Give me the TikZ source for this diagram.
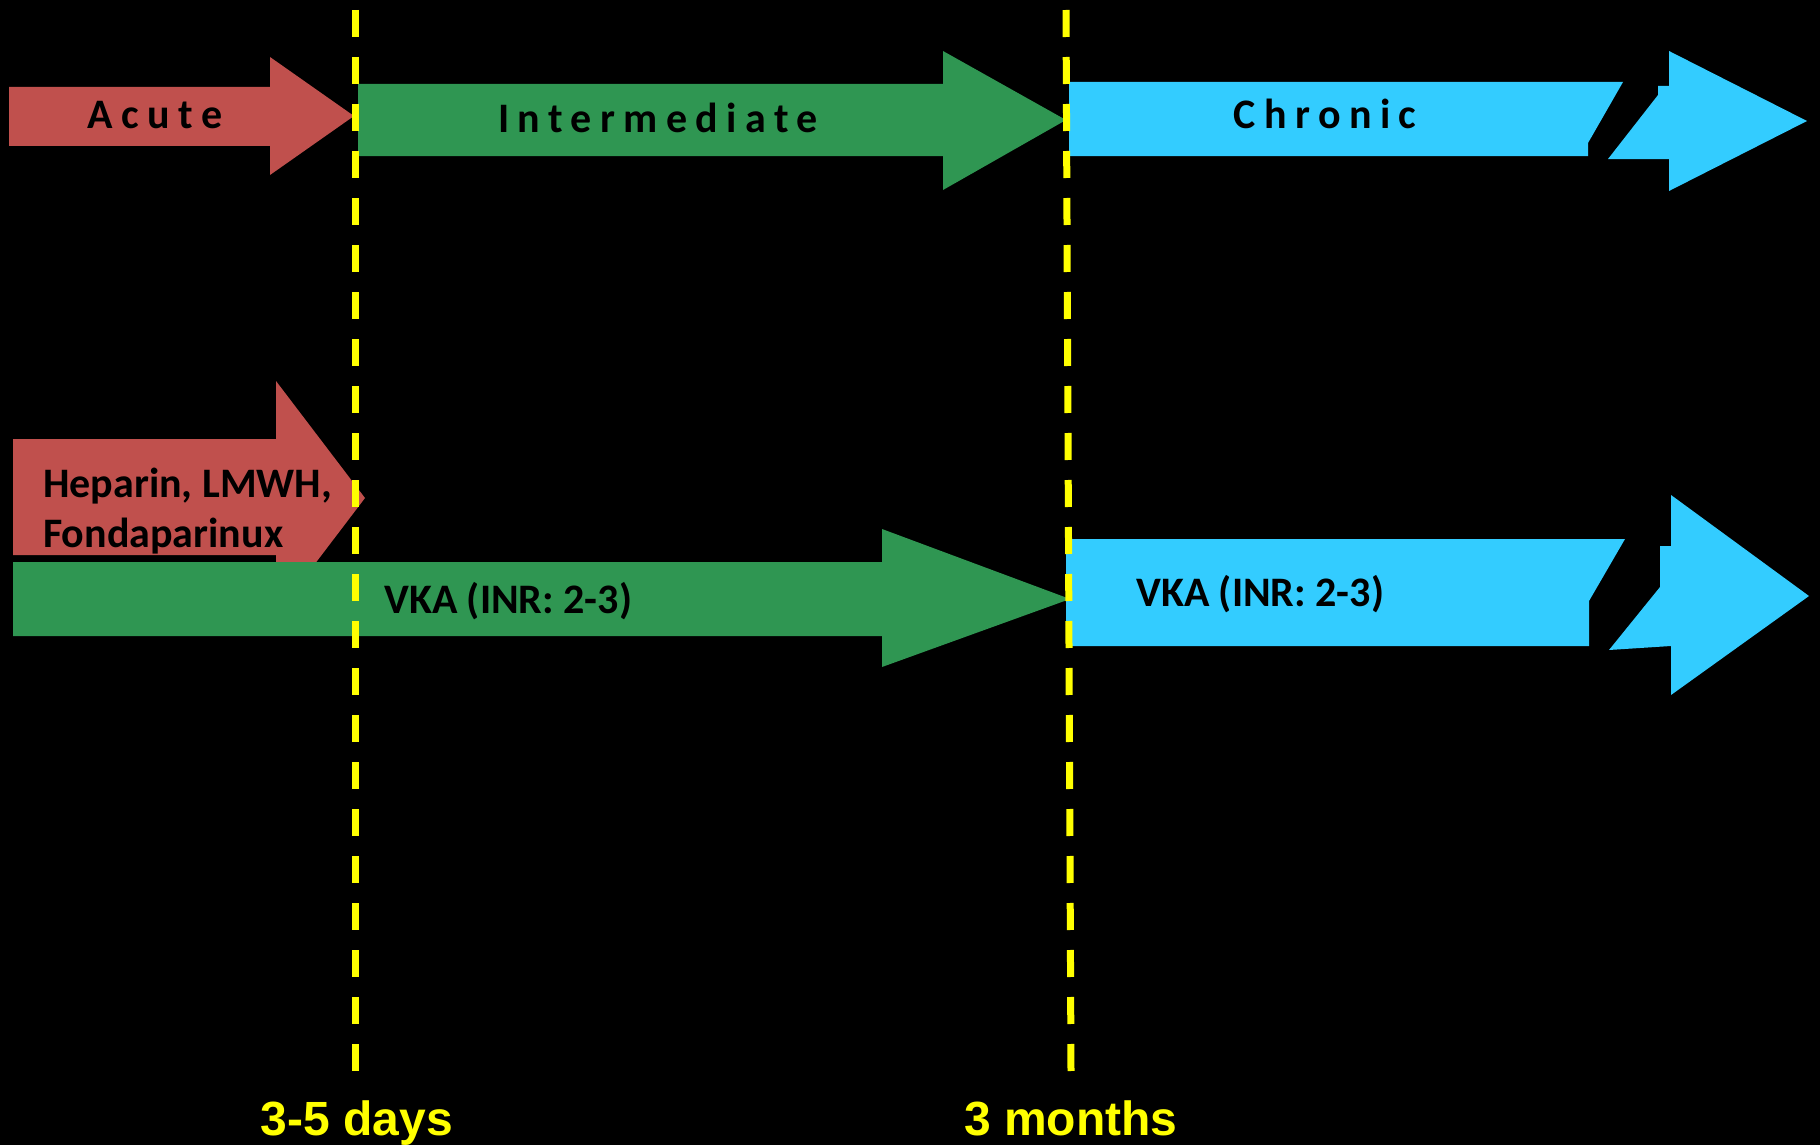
\documentclass[tikz,border=0pt]{standalone}
\usepackage{fontspec}
\setmainfont{Carlito}
\newfontfamily\timefont{Liberation Sans}
\definecolor{acutered}{HTML}{C0504D}
\definecolor{midgreen}{HTML}{2F9652}
\definecolor{chronblue}{HTML}{33CCFF}
\definecolor{markyellow}{HTML}{FFFF00}

\begin{document}
\begin{tikzpicture}[x=1pt,y=-1pt,
        phase/.style={font=\fontsize{42}{50}\bfseries\addfontfeature{LetterSpace=20},text=black,anchor=base,inner sep=0pt},
        drug/.style={font=\fontsize{42}{50}\bfseries,text=black,anchor=base west,inner sep=0pt},
        timemark/.style={font=\fontsize{48}{56}\timefont\bfseries,text=markyellow,anchor=base,inner sep=0pt},
        cutoff/.style={markyellow,line width=7pt,dash pattern=on 27pt off 20pt}]
                \fill[black] (0,0) rectangle (1820,1145);
                \fill[acutered] (9,87) -- (270,87) -- (270,57) -- (354,116) -- (270,175) -- (270,146) -- (9,146) -- cycle;
                \fill[midgreen] (358,84) -- (943,84) -- (943,51) -- (1066,120) -- (943,190) -- (943,156) -- (358,156) -- cycle;
                \fill[chronblue] (1069,82) -- (1623,82) -- (1588,143) -- (1588,156) -- (1069,156) -- cycle;
                \fill[chronblue] (1608,159) -- (1658,95) -- (1658,86) -- (1669,86) -- (1669,51) -- (1807,121) -- (1669,191) -- (1669,159) -- cycle;
                \node[phase] (acute) at (155,129) {Acute};
                \node[phase] (intermediate) at (658,133) {Intermediate};
                \node[phase] (chronic) at (1325,129) {Chronic};
                \fill[acutered] (13,439) -- (276,439) -- (276,381) -- (365,498) -- (276,615) -- (276,555) -- (13,555) -- cycle;
                \fill[midgreen] (13,562) -- (882,562) -- (882,529) -- (1070,599) -- (882,667) -- (882,636) -- (13,636) -- cycle;
                \fill[chronblue] (1066,539) -- (1625,539) -- (1589,601) -- (1589,646) -- (1066,646) -- cycle;
                \fill[chronblue] (1609,650) -- (1660,587) -- (1660,546) -- (1671,546) -- (1671,495) -- (1809,596) -- (1671,695) -- (1671,646) -- cycle;
                \node[drug] (heparin) at (43,497) {Heparin, LMWH,};
                \node[drug] (fonda) at (43,547) {Fondaparinux};
                \node[drug] (vkagreen) at (384,613) {VKA (INR: 2-3)};
                \node[drug] (vkablue) at (1136,606) {VKA (INR: 2-3)};
                \draw[cutoff] (355,10) -- (355,1071) node[timemark,xshift=2pt,yshift=-64pt] (days) {3-5 days};
                \draw[cutoff] (1066,10) -- (1071,1071) node[timemark,yshift=-64pt] (months) {3 months};
\end{tikzpicture}
\end{document}
